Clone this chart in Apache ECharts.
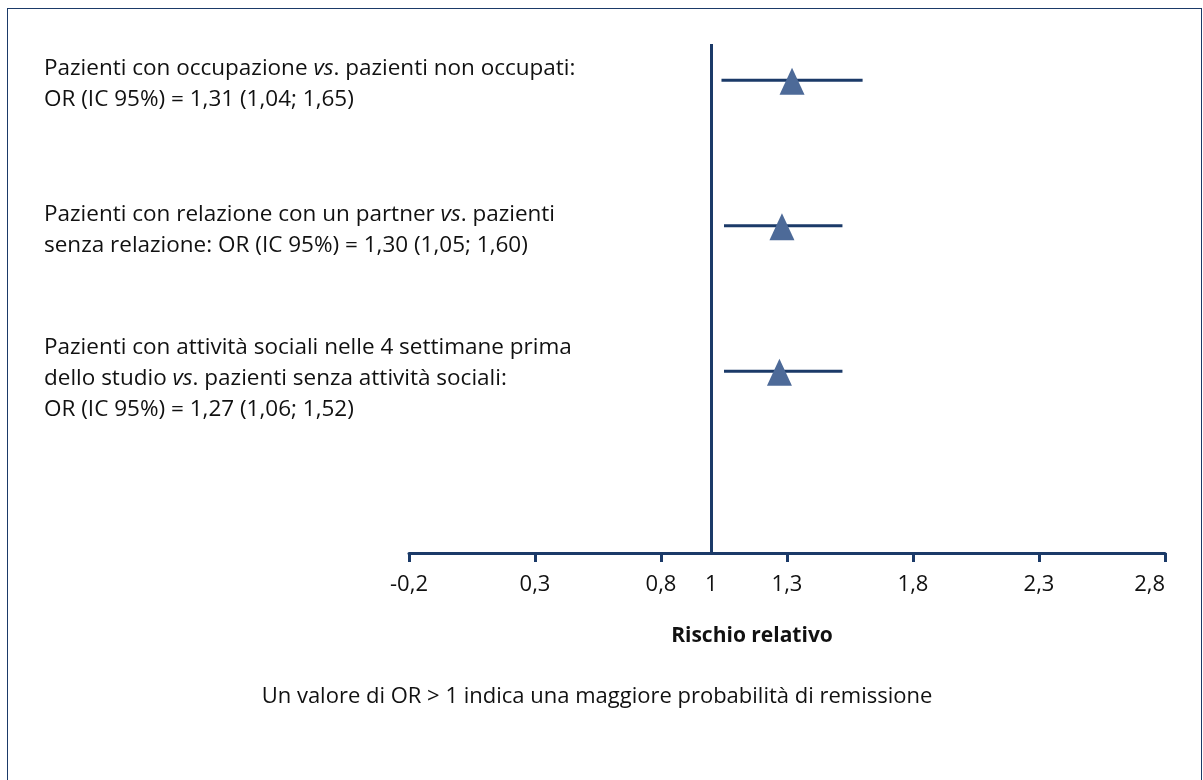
<!DOCTYPE html>
<html>
<head>
<meta charset="utf-8">
<script src="https://cdn.jsdelivr.net/npm/echarts@6/dist/echarts.min.js"></script>
<style>
html,body{margin:0;padding:0;background:#fff;}
#frame{position:absolute;left:7px;top:8px;width:1195px;height:780px;border:1px solid #1b3a68;border-bottom:none;box-sizing:border-box;}
#chart{position:absolute;left:0;top:0;width:1203px;height:780px;}
</style>
</head>
<body>
<div id="frame"></div>
<div id="chart"></div>
<script>
// ---- data ----
const rowLabels = [
  ['Pazienti con occupazione {i|vs}. pazienti non occupati:', 'OR (IC 95%) = 1,31 (1,04; 1,65)'],
  ['Pazienti con relazione con un partner {i|vs}. pazienti', 'senza relazione: OR (IC 95%) = 1,30 (1,05; 1,60)'],
  ['Pazienti con attività sociali nelle 4 settimane prima', 'dello studio {i|vs}. pazienti senza attività sociali:', 'OR (IC 95%) = 1,27 (1,06; 1,52)']
];
const orValues = [1.32, 1.28, 1.27];
const ciLow = [1.04, 1.05, 1.05];
const ciHigh = [1.60, 1.52, 1.52];
const rowPos = [3.25, 2.25, 1.25];
const xTickLabels = [-0.2, 0.3, 0.8, 1, 1.3, 1.8, 2.3, 2.8];
const xTickMarks = [-0.2, 0.3, 0.8, 1.3, 1.8, 2.3, 2.8];
const refValue = 1;
const axisName = 'Rischio relativo';
const footnote = 'Un valore di OR > 1 indica una maggiore probabilità di remissione';

const FONT = '"Open Sans"';
const NAVY = '#1b3a68';
const TRI = '#4d6a98';
const TXT = 22.5;

const chart = echarts.init(document.getElementById('chart'), null, {renderer: 'canvas'});

const labelTops = [53, 199, 332];
const graphics = rowLabels.map((lines, i) => ({
  type: 'text', left: 44, top: labelTops[i],
  style: {
    text: lines.join('\n'),
    font: TXT + 'px ' + FONT, fill: '#111', lineHeight: 31,
    rich: { i: { fontStyle: 'italic', fontSize: TXT, fontFamily: FONT, fill: '#111', lineHeight: 31 } }
  }
}));
graphics.push({
  type: 'text', x: 752, y: 636,
  style: { text: axisName, font: 'bold 21px ' + FONT, fill: '#111', align: 'center', verticalAlign: 'middle' }
});
graphics.push({
  type: 'text', x: 597, y: 697,
  style: { text: footnote, font: '22px ' + FONT, fill: '#111', align: 'center', verticalAlign: 'middle' }
});

const ciData = rowPos.map((y, i) => [ciLow[i], ciHigh[i], y]);
const ptData = rowPos.map((y, i) => [orValues[i], y]);

chart.setOption({
  animation: false,
  grid: { left: 409, right: 38, top: 44, bottom: 227 },
  xAxis: {
    type: 'value', min: -0.2, max: 2.8, interval: 0.5,
    axisLine: { show: true, onZero: false, lineStyle: { color: NAVY, width: 3 } },
    axisTick: { show: true, length: 9, customValues: xTickMarks, lineStyle: { color: NAVY, width: 3 } },
    axisLabel: {
      customValues: xTickLabels, margin: 21, alignMaxLabel: 'right',
      fontFamily: FONT, fontSize: 22, color: '#111',
      formatter: v => String(Math.round(v * 10) / 10).replace('.', ',')
    },
    splitLine: { show: false }
  },
  yAxis: {
    type: 'value', min: 0, max: 3.5,
    axisLine: { show: false }, axisTick: { show: false }, axisLabel: { show: false }, splitLine: { show: false }
  },
  series: [
    {
      type: 'custom',
      data: ciData,
      renderItem: (params, api) => {
        const a = api.coord([api.value(0), api.value(2)]);
        const b = api.coord([api.value(1), api.value(2)]);
        return { type: 'line', shape: { x1: a[0], y1: a[1], x2: b[0], y2: b[1] }, style: { stroke: NAVY, lineWidth: 3 } };
      },
      z: 2
    },
    {
      type: 'scatter',
      data: ptData,
      symbol: 'triangle', symbolSize: [25, 27], symbolOffset: [0, 1],
      itemStyle: { color: TRI, opacity: 1 },
      z: 3,
      markLine: {
        silent: true, symbol: 'none', label: { show: false },
        lineStyle: { color: NAVY, width: 3, type: 'solid' },
        data: [{ xAxis: refValue }]
      }
    }
  ],
  graphic: graphics
});
</script>
</body>
</html>
